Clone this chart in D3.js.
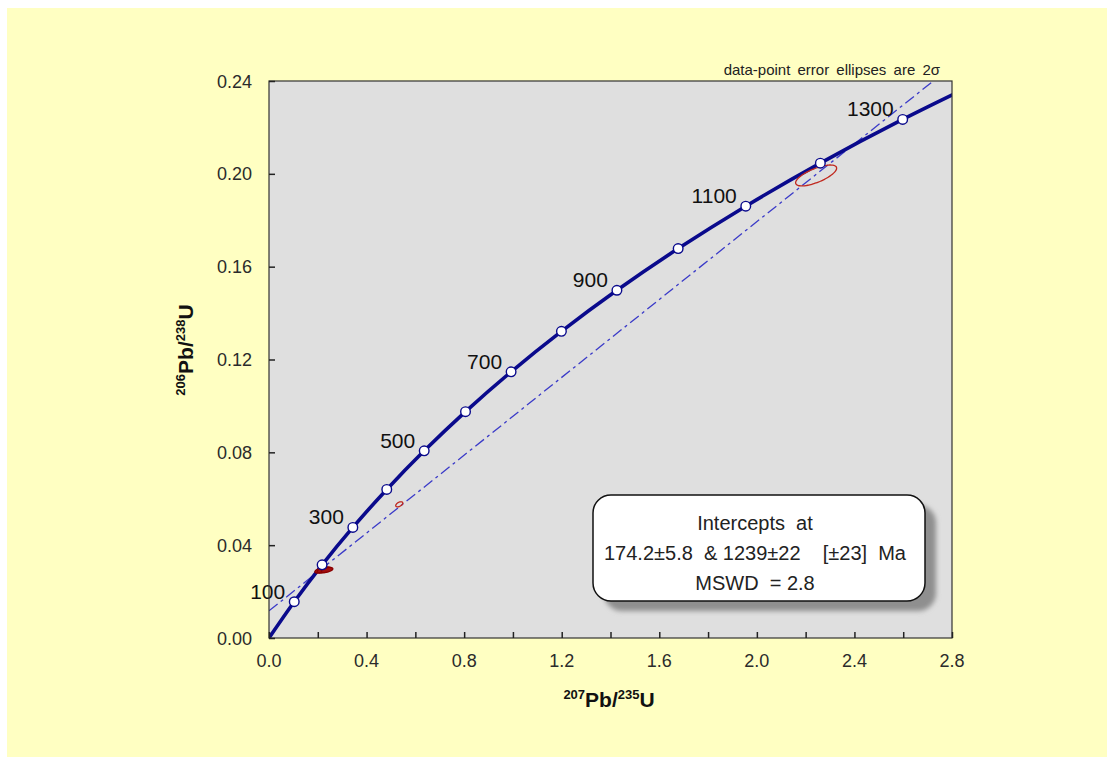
<!DOCTYPE html>
<html>
<head>
<meta charset="utf-8">
<script src="https://cdn.jsdelivr.net/npm/d3@7"></script>
<style>
  html, body { margin: 0; padding: 0; background: #ffffff; }
  svg { display: block; font-family: "Liberation Sans", Arial, sans-serif; }
</style>
</head>
<body>
<svg id="chart" width="1107" height="757"></svg>
<script>
// Concordia ages (Ma) and their 207Pb/235U, 206Pb/238U ratios
const concordiaAge = [0, 100, 200, 300, 400, 500, 600, 700, 800, 900, 1000, 1100, 1200, 1300, 1400];
const concordiaX = [0, 0.1035, 0.2177, 0.3437, 0.4828, 0.6363, 0.8056, 0.9925, 1.1988, 1.4263, 1.6774, 1.9546, 2.2603, 2.5978, 2.9701];
const concordiaY = [0, 0.01563, 0.03151, 0.04764, 0.06402, 0.08065, 0.09754, 0.11470, 0.13213, 0.14983, 0.16780, 0.18606, 0.20460, 0.22343, 0.24256];
const labelledAges = [100, 300, 500, 700, 900, 1100, 1300];

// Discordia chord: lower and upper intercepts on the concordia (174.2 Ma, 1239 Ma)
const interceptX = [0.1872, 2.3880];
const interceptY = [0.02739, 0.21191];

// Analyses: 2-sigma error ellipses
const ellipseX    = [0.214, 0.226, 0.238, 0.534, 2.243];
const ellipseXErr = [0.026, 0.028, 0.024, 0.0145, 0.084];
const ellipseY    = [0.02915, 0.02935, 0.0293, 0.0576, 0.1993];
const ellipseYErr = [0.0012, 0.0013, 0.0011, 0.0011, 0.0045];
const ellipseRho  = [0.5, 0.5, 0.5, 0.5, 0.7];
const ellipseFilled = [true, true, true, false, false];

// Axis ticks
const xTicks = [0, 0.2, 0.4, 0.6, 0.8, 1.0, 1.2, 1.4, 1.6, 1.8, 2.0, 2.2, 2.4, 2.6, 2.8];
const xTickLabels = [0, 0.4, 0.8, 1.2, 1.6, 2.0, 2.4, 2.8];
const yTicks = [0, 0.04, 0.08, 0.12, 0.16, 0.20, 0.24];

const resultLines = ["Intercepts  at", "174.2\u00b15.8  & 1239\u00b122    [\u00b123]  Ma", "MSWD  = 2.8"];
const noteText = "data-point error ellipses are 2\u03c3";

const svg = d3.select("#chart");
const W = 1107, H = 757;
const plot = { left: 269, right: 952, top: 81, bottom: 638 };

const x = d3.scaleLinear().domain([0, 2.8]).range([plot.left, plot.right]);
const y = d3.scaleLinear().domain([0, 0.24]).range([plot.bottom, plot.top]);

// page background
svg.append("rect").attr("x", 7).attr("y", 8).attr("width", W - 7).attr("height", H - 8).attr("fill", "#ffffc2");

const defs = svg.append("defs");
defs.append("clipPath").attr("id", "plotClip")
  .append("rect").attr("x", plot.left).attr("y", plot.top)
  .attr("width", plot.right - plot.left).attr("height", plot.bottom - plot.top);
defs.append("filter").attr("id", "soft").attr("x", "-10%").attr("y", "-10%").attr("width", "130%").attr("height", "140%")
  .append("feGaussianBlur").attr("stdDeviation", 2.5);

// plot area
svg.append("rect").attr("x", plot.left).attr("y", plot.top)
  .attr("width", plot.right - plot.left).attr("height", plot.bottom - plot.top)
  .attr("fill", "#dfdfdf");

const inner = svg.append("g").attr("clip-path", "url(#plotClip)");

// discordia chord, extended across the plot
const slope = (interceptY[1] - interceptY[0]) / (interceptX[1] - interceptX[0]);
const yAt = v => interceptY[0] + slope * (v - interceptX[0]);
inner.append("line")
  .attr("x1", x(0)).attr("y1", y(yAt(0)))
  .attr("x2", x(2.8)).attr("y2", y(yAt(2.8)))
  .attr("stroke", "#3a3ac8").attr("stroke-width", 1.3)
  .attr("stroke-dasharray", "11,4,3,4");

// concordia curve
const pts = concordiaX.map((v, i) => [x(v), y(concordiaY[i])]);
inner.append("path").attr("d", d3.line().curve(d3.curveCatmullRom.alpha(0.5))(pts))
  .attr("fill", "none").attr("stroke", "#0a0a8c").attr("stroke-width", 3.6);

// error ellipses
const ellipsePath = i => {
  const p = d3.range(0, 360, 6).map(a => {
    const t = a * Math.PI / 180;
    const r = ellipseRho[i];
    return [x(ellipseX[i] + ellipseXErr[i] * Math.cos(t)),
            y(ellipseY[i] + ellipseYErr[i] * (r * Math.cos(t) + Math.sqrt(1 - r * r) * Math.sin(t)))];
  });
  return d3.line().curve(d3.curveCardinalClosed)(p);
};
ellipseX.forEach((_, i) => {
  inner.append("path").attr("d", ellipsePath(i))
    .attr("fill", ellipseFilled[i] ? "#a30f0f" : "none")
    .attr("stroke", ellipseFilled[i] ? "#8a0000" : "#c0281e")
    .attr("stroke-width", 1.3);
});

// age markers
concordiaAge.forEach((a, i) => {
  if (a === 0 || concordiaX[i] > 2.8) return;
  inner.append("circle").attr("cx", x(concordiaX[i])).attr("cy", y(concordiaY[i])).attr("r", 4.8)
    .attr("fill", "#ffffff").attr("stroke", "#0a0a8c").attr("stroke-width", 1.4);
});

// age labels
labelledAges.forEach(a => {
  const i = concordiaAge.indexOf(a);
  svg.append("text").attr("x", x(concordiaX[i]) - 9).attr("y", y(concordiaY[i]) - 3)
    .attr("text-anchor", "end").attr("font-size", 21).attr("fill", "#111")
    .text(a);
});

// frame
svg.append("rect").attr("x", plot.left).attr("y", plot.top)
  .attr("width", plot.right - plot.left).attr("height", plot.bottom - plot.top)
  .attr("fill", "none").attr("stroke", "#333").attr("stroke-width", 1.2);

// ticks (inward)
const xAxis = d3.axisBottom(x).tickValues(xTicks).tickSize(-6).tickFormat("");
svg.append("g").attr("transform", `translate(0,${plot.bottom})`).call(xAxis)
  .call(g => g.select(".domain").remove())
  .call(g => g.selectAll("line").attr("stroke", "#222").attr("stroke-width", 1.5));
const yAxis = d3.axisLeft(y).tickValues(yTicks).tickSize(-6).tickFormat("");
svg.append("g").attr("transform", `translate(${plot.left},0)`).call(yAxis)
  .call(g => g.select(".domain").remove())
  .call(g => g.selectAll("line").attr("stroke", "#222").attr("stroke-width", 1.5));

// tick labels
svg.append("g").selectAll("text").data(xTickLabels).join("text")
  .attr("x", d => x(d)).attr("y", plot.bottom + 29)
  .attr("text-anchor", "middle").attr("font-size", 18).attr("fill", "#2b2b2b")
  .text(d => d3.format(".1f")(d));
svg.append("g").selectAll("text").data(yTicks).join("text")
  .attr("x", plot.left - 17).attr("y", d => y(d) + 6.5)
  .attr("text-anchor", "end").attr("font-size", 18).attr("fill", "#2b2b2b")
  .text(d => d3.format(".2f")(d));

// axis titles
const xt = svg.append("text").attr("x", 609).attr("y", 707).attr("text-anchor", "middle")
  .attr("font-weight", "bold").attr("font-size", 21).attr("fill", "#111");
xt.append("tspan").attr("font-size", 13).attr("dy", -8).text("207");
xt.append("tspan").attr("dy", 8).text("Pb/");
xt.append("tspan").attr("font-size", 13).attr("dy", -8).text("235");
xt.append("tspan").attr("dy", 8).text("U");

const yt = svg.append("text").attr("transform", "translate(193,350) rotate(-90)").attr("text-anchor", "middle")
  .attr("font-weight", "bold").attr("font-size", 21).attr("fill", "#111");
yt.append("tspan").attr("font-size", 13).attr("dy", -8).text("206");
yt.append("tspan").attr("dy", 8).text("Pb/");
yt.append("tspan").attr("font-size", 13).attr("dy", -8).text("238");
yt.append("tspan").attr("dy", 8).text("U");

// note above plot
svg.append("text").attr("x", 940).attr("y", 75).attr("text-anchor", "end")
  .attr("font-size", 15).attr("fill", "#222").attr("word-spacing", 3).text(noteText);

// results box with shadow
const box = { x: 593, y: 495, w: 332, h: 106 };
svg.append("rect").attr("x", box.x + 11).attr("y", box.y + 10).attr("width", box.w).attr("height", box.h)
  .attr("rx", 18).attr("fill", "#8f8f8f").attr("filter", "url(#soft)");
svg.append("rect").attr("x", box.x).attr("y", box.y).attr("width", box.w).attr("height", box.h)
  .attr("rx", 18).attr("fill", "#ffffff").attr("stroke", "#111").attr("stroke-width", 1.5);
resultLines.forEach((t, i) => {
  svg.append("text").attr("x", box.x + box.w / 2 - 4).attr("y", box.y + 35 + i * 30)
    .attr("text-anchor", "middle").attr("font-size", 20).attr("fill", "#222")
    .style("white-space", "pre").text(t);
});
</script>
</body>
</html>
